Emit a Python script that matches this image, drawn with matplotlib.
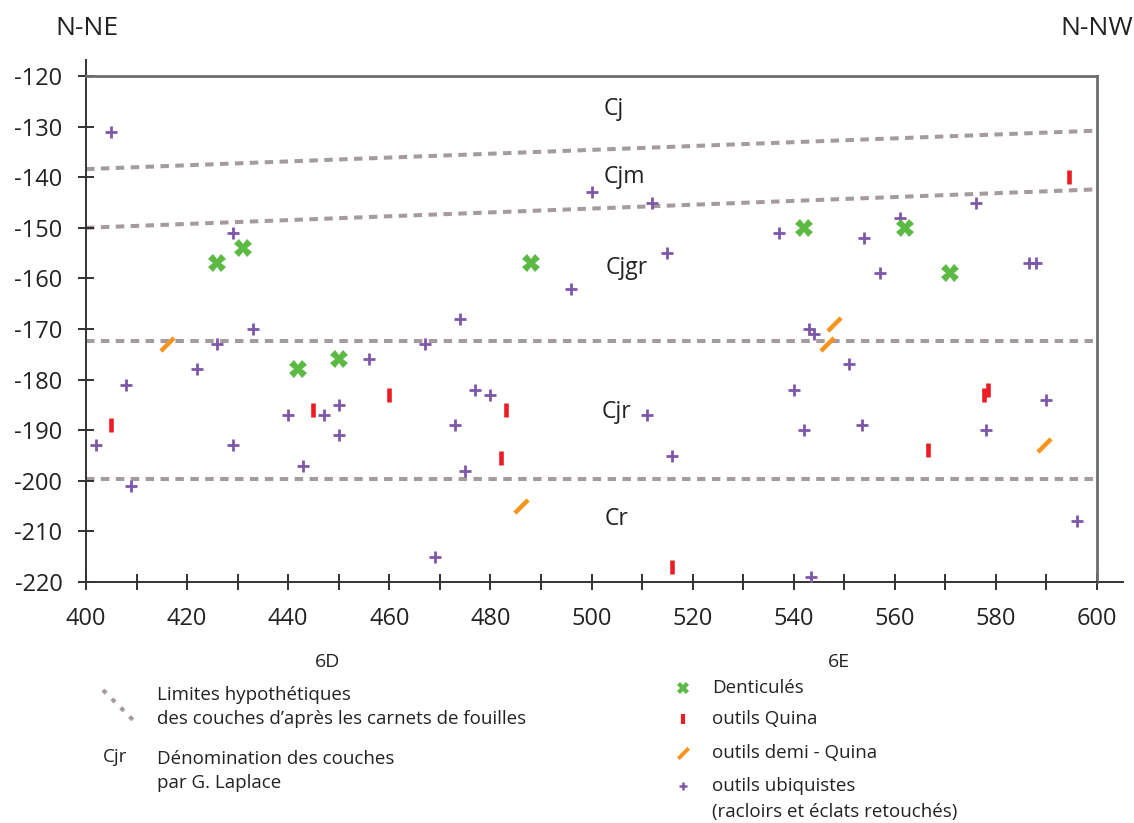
import matplotlib
matplotlib.use("Agg")
import matplotlib.pyplot as plt
from matplotlib.path import Path
from matplotlib.ticker import MultipleLocator

plt.rcParams["font.family"] = ["Open Sans", "DejaVu Sans"]
plt.rcParams["axes.unicode_minus"] = False

# outils ubiquistes (racloirs et éclats retouchés)
ubiq_x = [405, 429, 500, 512, 515, 496, 474, 537, 554, 561, 557, 576, 586.5, 588,
          402, 408, 409, 422, 426, 429, 433, 440, 443, 447, 450, 450, 456, 467,
          477, 480, 473, 475, 511, 516, 469, 543, 544, 551, 540, 542, 553.5, 578,
          590, 596, 543.5]
ubiq_y = [-131, -151, -143, -145, -155, -162, -168, -151, -152, -148, -159, -145, -157, -157,
          -193, -181, -201, -178, -173, -193, -170, -187, -197, -187, -185, -191, -176, -173,
          -182, -183, -189, -198, -187, -195, -215, -170, -171, -177, -182, -190, -189, -190,
          -184, -208, -219]

# Denticulés
dent_x = [426, 431, 488, 542, 562, 571, 442, 450]
dent_y = [-157, -154, -157, -150, -150, -159, -178, -176]

# outils Quina
quina_x = [405, 445, 460, 483, 482, 516, 566.5, 577.7, 578.4, 594.5]
quina_y = [-189, -186, -183, -186, -195.5, -217, -194, -183, -182, -140]

# outils demi - Quina
demi_x = [416, 486, 548, 546.5, 589.5]
demi_y = [-173, -205, -169, -173, -193]

# limites hypothétiques des couches (y at x=400 and x=600)
limit_x = [400, 600]
limit_left = [-138.4, -150.0, -172.3, -199.7]
limit_right = [-130.8, -142.4, -172.3, -199.7]

layer_names = ["Cj", "Cjm", "Cjgr", "Cjr", "Cr"]
layer_x = [504.5, 506.5, 507, 505, 505]
layer_y = [-126.5, -140, -158, -186.5, -207.5]

GREEN = "#5bb944"
RED = "#ed1c24"
ORANGE = "#f7941d"
PURPLE = "#7e57a8"
DASH = "#a59a9d"

slash = Path([(-1, -1), (1, 1)], [Path.MOVETO, Path.LINETO])

fig = plt.figure(figsize=(11.34, 8.23), dpi=100)
ax = fig.add_axes([86 / 1134, 1 - 582 / 823, (1097 - 86) / 1134, (582 - 76) / 823])

for y0, y1 in zip(limit_left, limit_right):
    ax.plot(limit_x, [y0, y1], color=DASH, lw=2.9, ls=(0, (2.1, 1.6)),
            dash_capstyle="butt", zorder=1)

ax.plot(ubiq_x, ubiq_y, ls="none", marker="+", ms=8, mew=2, color=PURPLE, zorder=3)
ax.plot(dent_x, dent_y, ls="none", marker="X", ms=12.5, mew=0, color=GREEN, zorder=3)
ax.plot(quina_x, quina_y, ls="none", marker="|", ms=10, mew=3.3, color=RED, zorder=3)
ax.plot(demi_x, demi_y, ls="none", marker=slash, ms=9.5, mew=3.2, color=ORANGE, zorder=3)

for name, x, y in zip(layer_names, layer_x, layer_y):
    ax.text(x, y, name, fontsize=16.5, ha="center", va="center", color="#222222")

ax.set_xlim(400, 600)
ax.set_ylim(-220, -120)
ax.xaxis.set_major_locator(MultipleLocator(20))
ax.xaxis.set_minor_locator(MultipleLocator(10))
ax.yaxis.set_major_locator(MultipleLocator(10))
ax.tick_params(which="both", direction="inout", length=12, width=1.3, color="#222222",
               labelsize=17, labelcolor="#222222")
ax.tick_params(axis="x", pad=12)
ax.tick_params(axis="y", pad=11)

for side in ["top", "right"]:
    ax.spines[side].set_color("#6d6d6d")
    ax.spines[side].set_linewidth(2)
for side in ["left", "bottom"]:
    ax.spines[side].set_color("#333333")
    ax.spines[side].set_linewidth(1.4)

# spine extensions beyond the frame
ax.plot([0, 0], [1, 1 + 16 / 506], transform=ax.transAxes, color="#333333",
        lw=1.4, clip_on=False)
ax.plot([1, 1 + 26 / 1011], [0, 0], transform=ax.transAxes, color="#333333",
        lw=1.4, clip_on=False)

# annotations and legend, in pixel coordinates of the figure
lg = fig.add_axes([0, 0, 1, 1], zorder=-1)
lg.set_xlim(0, 1134)
lg.set_ylim(823, 0)
lg.axis("off")

txt = dict(color="#222222", va="center")
lg.text(87, 28, "N-NE", fontsize=19, ha="center", **txt)
lg.text(1097, 28, "N-NW", fontsize=19, ha="center", **txt)
lg.text(328, 662, "6D", fontsize=14, ha="center", **txt)
lg.text(839, 662, "6E", fontsize=14, ha="center", **txt)

lg.plot([103, 138], [690, 725], color=DASH, lw=3, ls=(0, (1.1, 1.9)),
        dash_capstyle="butt")
lg.text(157, 695, "Limites hypothétiques", fontsize=13.5, ha="left", **txt)
lg.text(157, 719, "des couches d’après les carnets de fouilles", fontsize=13.5, ha="left", **txt)
lg.text(115, 757, "Cjr", fontsize=13.5, ha="center", **txt)
lg.text(157, 759, "Dénomination des couches", fontsize=13.5, ha="left", **txt)
lg.text(157, 783, "par G. Laplace", fontsize=13.5, ha="left", **txt)

leg_items = [
    ("X", GREEN, 8.5, 0, "Denticulés", 688),
    ("|", RED, 7.5, 3, "outils Quina", 719),
    (slash, ORANGE, 7.5, 2.8, "outils demi - Quina", 753),
    ("+", PURPLE, 5.5, 1.8, "outils ubiquistes", 786),
]
for marker, color, ms, mew, label, y in leg_items:
    lg.plot([683], [y], ls="none", marker=marker, ms=ms, mew=mew, color=color)
    lg.text(712, y, label, fontsize=13.5, ha="left", **txt)
lg.text(712, 812, "(racloirs et éclats retouchés)", fontsize=13.5, ha="left", **txt)

fig.savefig("out.png", dpi=100)
